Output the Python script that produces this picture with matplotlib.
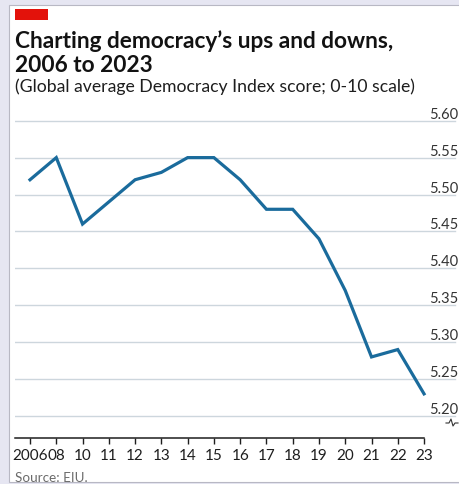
import matplotlib
matplotlib.use("Agg")
import matplotlib.pyplot as plt
from matplotlib.patches import Rectangle
from matplotlib.lines import Line2D

# Global average Democracy Index score, EIU
years = ["2006", "08", "10", "11", "12", "13", "14", "15", "16", "17", "18", "19", "20", "21", "22", "23"]
scores = [5.52, 5.55, 5.46, 5.49, 5.52, 5.53, 5.55, 5.55, 5.52, 5.48, 5.48, 5.44, 5.37, 5.28, 5.29, 5.23]
y_ticks = [5.20, 5.25, 5.30, 5.35, 5.40, 5.45, 5.50, 5.55, 5.60]

W, H = 459, 485
fig = plt.figure(figsize=(W / 100, H / 100), dpi=100)
fig.patch.set_facecolor("#e6e6f2")

def px(x, y):
    # pixel from top-left -> figure fraction
    return x / W, 1 - y / H

# white card behind everything
x0, y0 = px(9, 483)
card = Rectangle((x0, y0), 1 - x0 + 0.01, (483 - 6) / H, transform=fig.transFigure,
                 facecolor="white", edgecolor="#b8b8c4", linewidth=0.8, zorder=-10)
fig.add_artist(card)

# red tag
rx, ry = px(15, 21)
fig.add_artist(Rectangle((rx, ry), 33 / W, 11 / H, transform=fig.transFigure,
                         facecolor="#e3120b", edgecolor="none"))

tx, ty = px(15, 48)
fig.text(tx, ty, "Charting democracy\u2019s ups and downs,", fontsize=16.3, fontweight="bold",
         family="Lato", color="#121212", va="baseline")
tx, ty = px(15, 72)
fig.text(tx, ty, "2006 to 2023", fontsize=16.3, fontweight="bold",
         family="Lato", color="#121212", va="baseline")
tx, ty = px(15, 92)
fig.text(tx, ty, "(Global average Democracy Index score; 0-10 scale)", fontsize=12.7,
         family="Lato", color="#1e1e1e", va="baseline")
tx, ty = px(15, 482)
fig.text(tx, ty, "Source: EIU.", fontsize=9.7, family="Lato", color="#6b6b6b", va="baseline")

# axes: left at px 15, right at figure edge, top px 110, bottom px 439
ax_l, ax_b = px(15, 439)
ax = fig.add_axes([ax_l, ax_b, 1 - ax_l, (439 - 110) / H])
ax.set_facecolor("none")

xs = list(range(len(years)))
step = 26.27
ax.set_xlim((15 - 30) / step, (459 - 30) / step)
ppu = (417 - 121.7) / 0.40
ax.set_ylim(5.20 - (439 - 417) / ppu, 5.60 + (121.7 - 110) / ppu)

for v in y_ticks:
    ax.axhline(v, xmax=0.99, color="#cdd6dd", linewidth=1.0, zorder=1)

ax.plot(xs, scores, color="#1a6b9c", linewidth=2.3, solid_joinstyle="miter", zorder=3)

# x axis line and ticks
ax.plot([ax.get_xlim()[0], xs[-1]], [ax.get_ylim()[0]] * 2, color="#1e1e1e", linewidth=1.1,
        clip_on=False, zorder=4)
for s in ["top", "right", "left", "bottom"]:
    ax.spines[s].set_visible(False)
ax.set_xticks(xs)
ax.set_xticklabels(years, fontsize=11, family="Lato", color="#1e1e1e")
ax.tick_params(axis="x", direction="out", length=4, width=1, color="#1e1e1e", pad=3)

# value labels sit above each gridline at the right edge
ax.set_yticks(y_ticks)
ax.set_yticklabels([f"{v:.2f}" for v in y_ticks], fontsize=10.5, family="Lato", color="#333333")
ax.yaxis.tick_right()
ax.tick_params(axis="y", length=0, pad=-21.6)
for lab in ax.get_yticklabels():
    lab.set_verticalalignment("bottom")
    lab.set_horizontalalignment("left")

# broken-axis mark below 5.20
bx = [446, 449, 451, 453, 455, 458]
by = [424, 424, 420, 427, 424, 424]
fig.add_artist(Line2D([b / W for b in bx], [1 - b / H for b in by], transform=fig.transFigure,
                      color="#333333", linewidth=0.8))

fig.savefig("out.png", dpi=100, facecolor=fig.get_facecolor())
